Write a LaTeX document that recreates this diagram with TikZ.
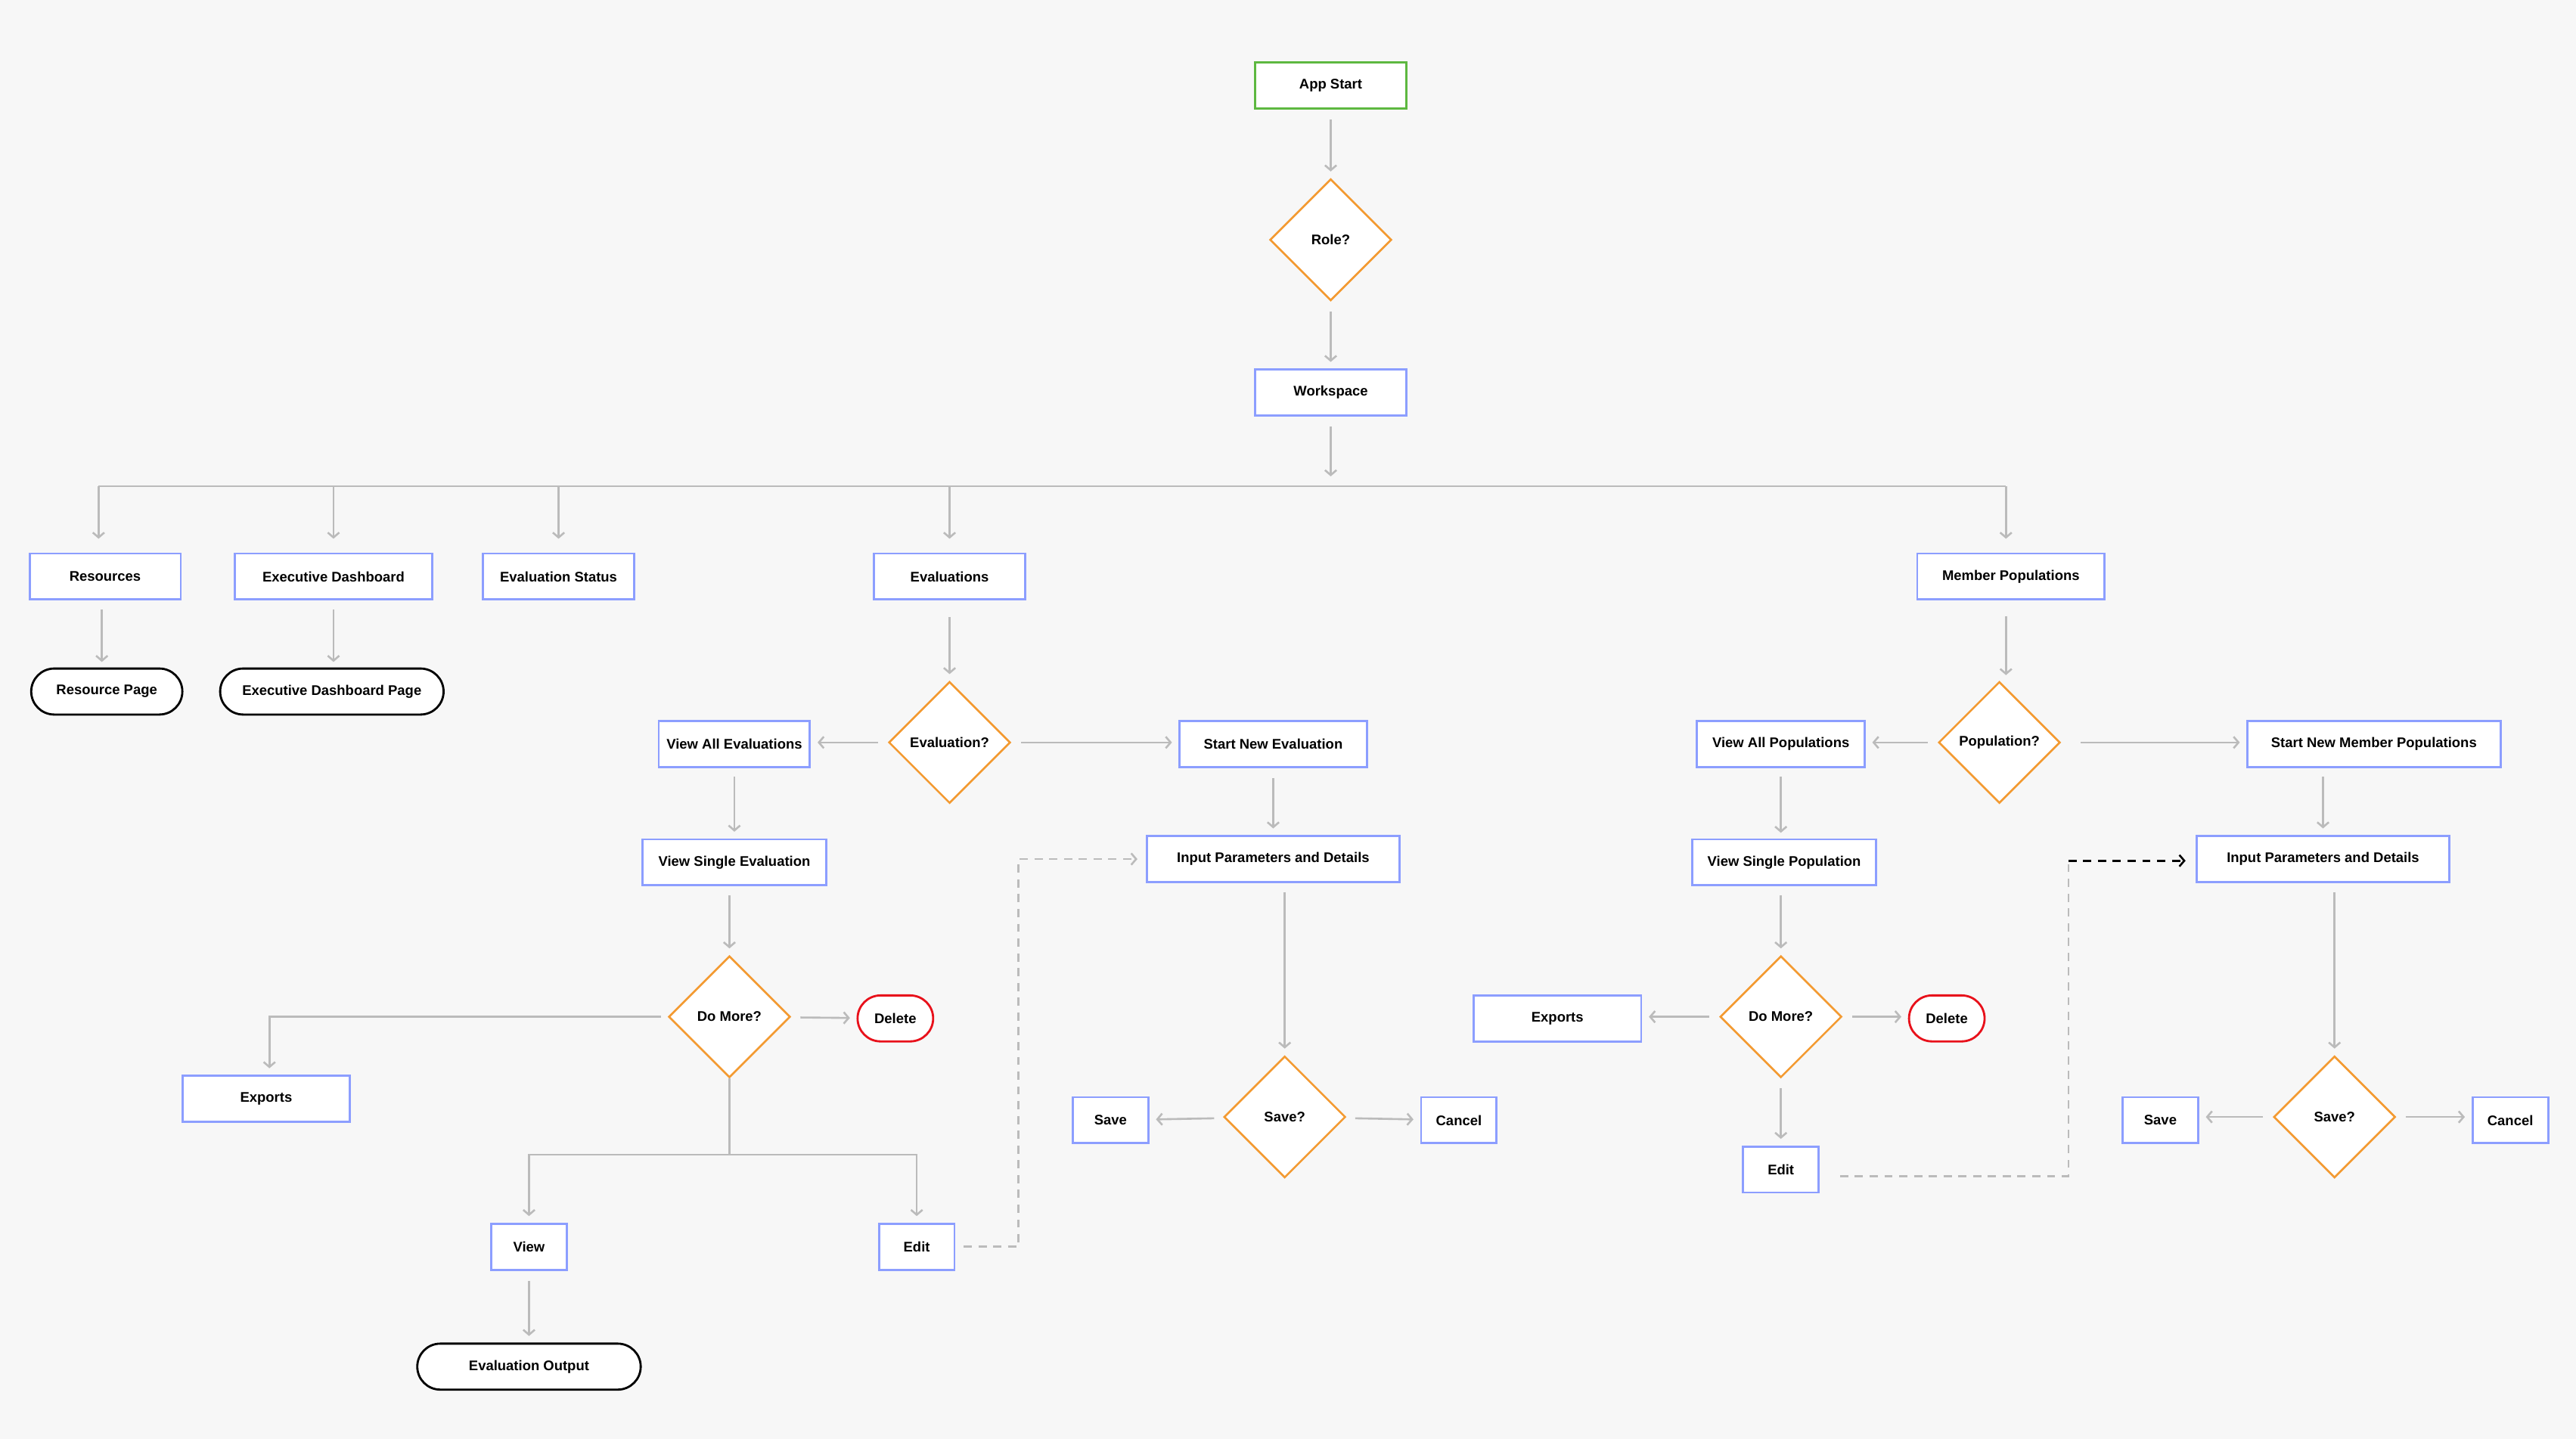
\documentclass[tikz,border=0pt]{standalone}
\usepackage{fontspec}
\setmainfont{Liberation Sans}
\usetikzlibrary{arrows.meta,shapes.geometric}
\definecolor{bgcol}{HTML}{F7F7F7}
\definecolor{blueline}{HTML}{8C9EFF}
\definecolor{greenline}{HTML}{5DB840}
\definecolor{orangeline}{HTML}{F39A31}
\definecolor{redline}{HTML}{E8111B}
\definecolor{flowcol}{HTML}{BBBBBB}
\tikzset{
  proc/.style = {rectangle, draw=blueline, fill=white, line width=1.3pt, minimum height=28pt, inner sep=2pt, font=\bfseries\fontsize{8.5}{10}\selectfont},
  startbox/.style = {proc, draw=greenline},
  decision/.style = {diamond, aspect=1, draw=orangeline, fill=white, line width=1.2pt, minimum width=74pt, minimum height=74pt, inner sep=0pt, font=\bfseries\fontsize{8.5}{10}\selectfont},
  term/.style = {rectangle, rounded corners=14pt, draw=black, fill=white, line width=1.3pt, minimum height=28pt, font=\bfseries\fontsize{8.5}{10}\selectfont},
  del/.style = {term, draw=redline},
  tip/.style = {-{Straight Barb[length=3pt,width=7pt]}},
  flow/.style = {draw=flowcol, line width=1.2pt, tip, shorten >=4pt, shorten <=6pt},
  back/.style = {draw=flowcol, line width=1.2pt, dash pattern=on 5pt off 4pt}
}
\begin{document}
\begin{tikzpicture}[x=1pt, y=-1pt]
\fill[bgcol] (0,0) rectangle (1568,876);
\useasboundingbox (0,0) rectangle (1568,876);

% top of the chart
\node (start) [startbox, minimum width=92pt] at (810,52) {App Start};
\node (role) [decision] at (810,146) {Role?};
\node (ws) [proc, minimum width=92pt] at (810,239) {Workspace};
\draw[flow] (start) -- (role);
\draw[flow] (role) -- (ws);

% bus to the sections
\coordinate (bus) at (810,296);
\draw[flow, shorten >=6pt] (ws) -- (bus);
\draw[draw=flowcol, line width=1.2pt] (60,296) -- (1221,296);

\node (res) [proc, minimum width=92pt] at (64,351) {Resources};
\node (exec) [proc, minimum width=120pt] at (203,351) {Executive Dashboard};
\node (evstat) [proc, minimum width=92pt] at (340,351) {Evaluation Status};
\node (evals) [proc, minimum width=92pt] at (578,351) {Evaluations};
\node (mpop) [proc, minimum width=114pt] at (1224,351) {Member Populations};
\foreach \x in {60, 203, 340, 578, 1221}
  \draw[flow, shorten <=0pt, shorten >=9pt] (\x,296) -- (\x,337);

\node (respage) [term, minimum width=92pt] at (65,421) {Resource Page};
\node (execpage) [term, minimum width=136pt] at (202,421) {Executive Dashboard Page};
\draw[flow] (62,365) -- (62,407);
\draw[flow] (203,365) -- (203,407);

% evaluations branch
\node (evq) [decision] at (578,452) {Evaluation?};
\node (viewall) [proc, minimum width=92pt] at (447,453) {View All Evaluations};
\node (startnew) [proc, minimum width=114pt] at (775,453) {Start New Evaluation};
\node (viewone) [proc, minimum width=112pt] at (447,525) {View Single Evaluation};
\node (input) [proc, minimum width=154pt] at (775,523) {Input Parameters and Details};
\node (more) [decision] at (444,619) {Do More?};
\node (delete) [del, minimum width=46pt] at (545,620) {Delete};
\node (exports) [proc, minimum width=102pt] at (162,669) {Exports};
\node (view) [proc, minimum width=46pt] at (322,759) {View};
\node (edit) [proc, minimum width=46pt] at (558,759) {Edit};
\node (output) [term, minimum width=136pt] at (322,832) {Evaluation Output};
\node (saveq) [decision] at (782,680) {Save?};
\node (save) [proc, minimum width=46pt] at (676,682) {Save};
\node (cancel) [proc, minimum width=46pt] at (888,682) {Cancel};

\draw[flow, shorten <=10pt] (evals) -- (evq);
\draw[flow] (evq.west) -- (evq.west -| viewall.east);
\draw[flow] (evq.east) -- (evq.east -| startnew.west);
\draw[flow] (447,467) -- (viewone);
\draw[flow] (startnew) -- (input);
\draw[flow] (444,539) -- (more);
\draw[flow] (more) -- (delete);
\draw[flow, shorten <=4pt] (more.west) -| (exports.north -| 164,0);
\draw[draw=flowcol, line width=1.2pt] (more.south) -- (444,703);
\draw[flow, shorten <=0pt] (444,703) -| (view);
\draw[flow, shorten <=0pt] (444,703) -| (edit);
\draw[flow] (view) -- (output);
\draw[flow] (782,537) -- (saveq);
\draw[flow] (saveq) -- (save);
\draw[flow] (saveq) -- (cancel);
\draw[back, tip, shorten <=5pt, shorten >=5pt] (edit.east) -- (620,759) |- (input.west);

% member populations branch
\node (popq) [decision] at (1217,452) {Population?};
\node (viewallp) [proc, minimum width=102pt] at (1084,453) {View All Populations};
\node (startnewp) [proc, minimum width=154pt] at (1445,453) {Start New Member Populations};
\node (viewonep) [proc, minimum width=112pt] at (1086,525) {View Single Population};
\node (inputp) [proc, minimum width=154pt] at (1414,523) {Input Parameters and Details};
\node (morep) [decision] at (1084,619) {Do More?};
\node (exportsp) [proc, minimum width=102pt] at (948,620) {Exports};
\node (deletep) [del, minimum width=46pt] at (1185,620) {Delete};
\node (editp) [proc, minimum width=46pt] at (1084,712) {Edit};
\node (saveqp) [decision] at (1421,680) {Save?};
\node (savep) [proc, minimum width=46pt] at (1315,682) {Save};
\node (cancelp) [proc, minimum width=46pt] at (1528,682) {Cancel};

\draw[flow, shorten <=10pt] (1221,365) -- (1221,415);
\draw[flow] (popq.west) -- (popq.west -| viewallp.east);
\draw[flow, shorten <=12pt] (popq.east) -- (popq.east -| startnewp.west);
\draw[flow] (1084,467) -- (1084,511);
\draw[flow] (1414,467) -- (inputp);
\draw[flow] (1084,539) -- (morep);
\draw[flow] (morep.west) -- (morep.west -| exportsp.east);
\draw[flow] (morep.east) -- (morep.east -| deletep.west);
\draw[flow] (morep) -- (editp);
\draw[flow] (1421,537) -- (saveqp);
\draw[flow] (saveqp.west) -- (saveqp.west -| savep.east);
\draw[flow] (saveqp.east) -- (saveqp.east -| cancelp.west);
\coordinate (bend) at (1259,524);
\draw[back, shorten <=13pt] (1107,716) -- (1259,716) -- (bend);
\draw[black, line width=1.2pt, dash pattern=on 5pt off 4pt, tip, shorten >=6pt] (bend) -- (inputp.west |- bend);
\end{tikzpicture}
\end{document}
